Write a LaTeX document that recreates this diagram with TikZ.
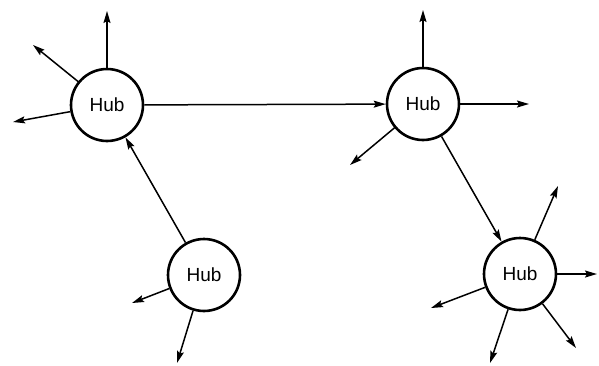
\documentclass[tikz,border=0pt]{standalone}
\usepackage{fontspec}
\setmainfont{Liberation Sans}
\usetikzlibrary{arrows.meta}
\tikzset{
  hub/.style={
    circle, draw=black, fill=white, line width=2.6pt,
    minimum size=72pt, inner sep=0pt,
    font=\fontsize{19}{22}\selectfont
  },
  myarr/.style={-{Stealth[length=12pt,width=7pt,inset=2pt]}, line width=1.5pt},
}
\begin{document}
\begin{tikzpicture}[x=1pt,y=-1pt]
  \useasboundingbox (0,0) rectangle (599,365);

  % hubs
  \node[hub] (hubA) at (107,105) {Hub};
  \node[hub] (hubB) at (423,104) {Hub};
  \node[hub] (hubC) at (204,275) {Hub};
  \node[hub] (hubD) at (520,274) {Hub};

  % free ends
  \coordinate (a1) at (107,11);
  \coordinate (a2) at (33,45);
  \coordinate (a3) at (13,122);
  \coordinate (b1) at (423,10);
  \coordinate (b2) at (529,104);
  \coordinate (b3) at (350,165);
  \coordinate (c1) at (132,303);
  \coordinate (c2) at (177,363);
  \coordinate (d1) at (558,186);
  \coordinate (d2) at (597,274);
  \coordinate (d3) at (431,308);
  \coordinate (d4) at (490,363);
  \coordinate (d5) at (576,348);

  % links between hubs
  \draw[myarr] (hubA) -- (hubB);
  \draw[myarr] (hubC) -- (hubA);
  \draw[myarr] (hubB) -- (hubD);

  % outgoing
  \foreach \h/\e in {hubA/a1,hubA/a2,hubA/a3,hubB/b1,hubB/b2,hubB/b3,
                     hubC/c1,hubC/c2,hubD/d1,hubD/d2,hubD/d3,hubD/d4,hubD/d5}
    \draw[myarr] (\h) -- (\e);
\end{tikzpicture}
\end{document}
